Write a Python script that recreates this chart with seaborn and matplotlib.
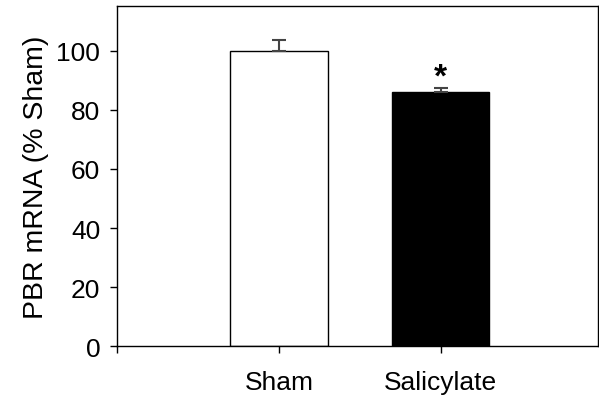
import pandas as pd
import matplotlib.pyplot as plt
import seaborn as sns

# Datos
grupos = ["Sham", "Salicylate"]
valores = [100.0, 86.1]
errores = [3.6, 1.4]
colores = ["white", "black"]

df = pd.DataFrame({"grupo": grupos, "valor": valores})

sns.set_style("ticks")
plt.rcParams['font.family'] = ['Liberation Sans', 'DejaVu Sans']
plt.rcParams['text.color'] = 'black'
plt.rcParams['axes.labelcolor'] = 'black'
plt.rcParams['xtick.color'] = 'black'
plt.rcParams['ytick.color'] = 'black'

fig = plt.figure(figsize=(5.99, 4.02), dpi=100)
ax = fig.add_axes([0.1953, 0.136, 0.8030, 0.846])

sns.barplot(data=df, x="grupo", y="valor", hue="grupo", palette=colores,
            edgecolor="black", linewidth=1, width=0.6, legend=False, ax=ax)

# Barras de error (solo hacia arriba)
ax.errorbar(grupos, valores, yerr=[[0, 0], errores], fmt="none",
            ecolor="#444444", elinewidth=1.5, capsize=5, capthick=1.5)

# Asterisco de significancia
ax.text(1, 91.2, "*", ha="center", va="center", fontsize=24, fontweight="bold")

ax.set_xlim(-1, 1.97)
ax.set_ylim(0, 115)
ax.set_xticks([-1, 0, 1])
ax.set_xticklabels(["", "Sham", "Salicylate"])
ax.set_yticks([0, 20, 40, 60, 80, 100])
ax.set_xlabel("")
ax.set_ylabel("PBR mRNA (% Sham)", fontsize=20.5, labelpad=5)
ax.tick_params(axis="both", labelsize=19, direction="out", length=5, width=1,
               color="black", labelcolor="black")
ax.tick_params(axis="x", pad=12)
ax.tick_params(axis="y", pad=7)
for s in ax.spines.values():
    s.set_visible(True)
    s.set_linewidth(1)
    s.set_color("black")

fig.savefig("out.png", dpi=100)
